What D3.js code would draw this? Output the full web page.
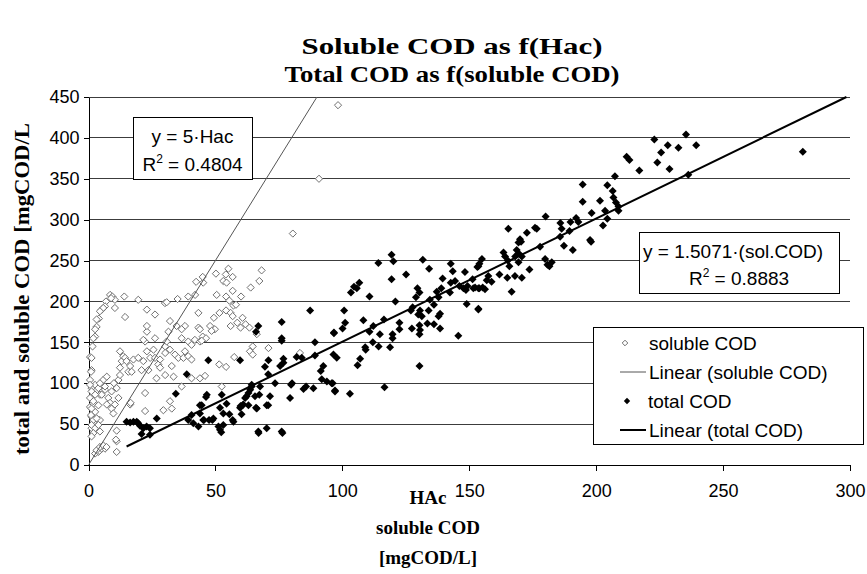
<!DOCTYPE html>
<html>
<head>
<meta charset="utf-8">
<script src="https://cdn.jsdelivr.net/npm/d3@7/dist/d3.min.js"></script>
<style>
  body{margin:0;background:#fff;}
  svg text{fill:#000;}
</style>
</head>
<body>
<svg id="chart" width="867" height="574"></svg>
<script>
// ---- data ----
const xTicks=[0,50,100,150,200,250,300];
const yTicks=[0,50,100,150,200,250,300,350,400,450];
const titleLines=["Soluble COD as f(Hac)","Total COD as f(soluble COD)"];
const xLabelLines=["HAc","soluble COD","[mgCOD/L]"];
const yLabel="total and soluble COD [mgCOD/L";
const legendItems=["soluble COD","Linear (soluble COD)","total COD","Linear (total COD)"];

// soluble COD vs HAc
const solubleCOD=[
  [1.2,45],[2.2,51],[3.2,47],[4.5,55],[1.2,59],[2.6,65],[0.6,71],[1.9,75],[3.9,73],[4.5,86],
  [1.2,94],[2.6,98],[0.6,104],[5.8,104],[7.2,108],[1.2,116],[0.6,132],[1.6,145],[2.6,157],[3.2,169],
  [4.1,179],[5.2,190],[6.9,200],[8.5,208],[9.4,206],[10.4,202],[14.1,206],[14.4,181],[6.5,194],
  [8.9,204],[10.4,192],[5.8,192],[4.5,188],[3.2,178],[2.6,166],[1.9,155],[1.2,131],[1.0,114],
  [0.6,98],[1.2,90],[0.6,82],[1.9,78],[1.2,69],[1.0,61],[1.9,55],[3.2,57],[1.2,49],[2.6,45],
  [3.9,49],[1.9,39],[1.2,35],[4.5,41],[3.9,16],[5.2,20],[6.5,20],[2.6,14],[11.1,16],[3.9,94],
  [5.2,86],[6.5,92],[7.8,82],[8.5,76],[7.2,74],[9.1,69],[9.8,63],[10.4,74],[11.8,82],[9.1,90],
  [11.1,94],[10.0,100],[11.8,104],[12.4,110],[12.4,119],[13.1,127],[12.4,139],[13.7,133],
  [14.4,131],[15.0,127],[16.4,121],[15.7,114],[17.0,114],[17.7,129],[19.6,131],[21.6,127],
  [23.0,139],[22.3,151],[21.6,153],[23.0,163],[23.0,170],[26.2,155],[25.6,141],[24.3,131],
  [20.9,116],[23.6,116],[26.2,131],[27.5,123],[28.2,129],[30.2,145],[30.2,137],[32.1,141],
  [32.8,121],[34.1,135],[35.4,131],[37.4,131],[38.0,139],[39.3,133],[40.6,129],[36.7,155],
  [39.3,151],[40.6,147],[41.9,153],[43.9,151],[43.3,168],[38.0,170],[36.7,166],[34.7,170],
  [32.1,176],[31.5,163],[30.8,151],[43.3,186],[23.0,190],[26.2,184],[19.6,202],[30.1,198],
  [35.1,203],[39.3,206],[42.0,208],[45.2,223],[6.5,96],[2.6,86],[4.5,100],[40.6,106],[43.9,106],
  [30.2,110],[33.5,108],[28.2,119],[26.8,106],[22.3,88],[22.3,66],[16.4,74],[32.1,78],[29.5,67],
  [36.7,96],[3.2,18],[4.5,22],[5.8,24],[7.1,22],[11.1,29],[11.1,42],[16.6,76],[10.8,31],
  [42.4,224],[45.0,230],[30.8,199],[32.8,69],
  [55.1,240],[50.2,234],[54.1,233],[56.8,230],[53.1,225],[54.4,223],[68.2,238],[67.3,225],
  [63.9,217],[56.8,213],[50.5,208],[54.2,206],[60.1,206],[55.5,201],[57.1,195],[58.1,196],
  [54.2,189],[51.6,186],[56.0,186],[49.4,180],[56.8,182],[60.7,180],[58.6,174],[56.0,170],
  [59.9,168],[61.9,172],[63.4,168],[47.9,170],[49.8,166],[48.5,164],[43.9,166],[45.0,157],
  [46.3,155],[44.6,152],[66.3,160],[64.7,145],[70.9,143],[63.6,139],[64.7,135],[57.4,132],
  [51.5,123],[54.2,120],[45.9,109],[52.5,96],
  [98.3,440],[90.8,350],[80.5,283],[83.3,137]
];

// total COD vs soluble COD
const totalCOD=[
  [15.0,53],[16.4,52],[17.7,53],[19.0,53],[19.6,51],[20.3,48],[21.6,45],[22.9,47],[24.2,45],
  [20.9,38],[24.2,37],[26.9,57],[34.4,87],[38.7,111],[43.9,73],[40.6,61],[41.3,51],[45.2,55],
  [43.9,63],[39.3,55],[43.3,47],
  [47.2,128],[46.6,86],[47.5,55],[49.2,57],[51.2,47],[51.8,43],[53.1,63],[54.4,75],[56.8,55],
  [59.7,128],[59.9,72],[60.7,73],[62.3,84],[63.0,88],[64.3,96],[65.6,84],[66.3,69],[66.9,41],
  [70.2,45],[69.5,120],[70.2,73],[70.9,128],[71.5,84],[73.5,100],[76.1,155],[76.1,175],
  [76.8,130],[76.1,41],[79.4,82],[80.2,100],[82.0,132],[66.0,163],[66.9,170],
  [87.3,189],[96.7,162],[89.2,150],[76.1,152],[76.8,125],[75.5,121],[84.0,131],[89.2,134],
  [96.5,135],[97.8,131],[92.5,121],[91.5,115],[70.8,111],[91.9,105],[93.9,102],[95.8,100],
  [97.1,91],[88.6,94],[85.7,96],[84.7,93],[79.8,98],[67.6,96],[67.3,86],[64.3,98],[63.7,92],
  [61.7,82],[61.0,74],[63.0,73],[59.7,70],[66.0,70],[70.8,73],[46.3,83],[52.5,86],[44.6,73],
  [51.8,70],[55.5,62],[45.5,55],[48.8,55],[57.1,53],[53.1,49],[52.3,40],[67.0,39],[76.4,39],
  [60.3,62],
  [119.4,257],[120.1,249],[114.2,247],[131.7,251],[134.2,240],[142.7,246],[143.5,237],
  [148.3,236],[153.6,243],[125.1,233],[119.4,227],[139.5,228],[144.4,225],[142.7,223],
  [139.0,216],[137.2,212],[129.6,216],[130.4,211],[129.0,205],[137.9,205],[134.5,202],
  [146.1,219],[147.7,216],[149.3,219],[151.6,216],[148.7,214],[153.6,216],[149.0,197],
  [153.6,191],[142.4,211],[136.1,196],[134.0,189],[138.5,185],[137.9,182],[130.6,189],
  [129.9,184],[131.3,182],[127.7,193],[127.0,189],[120.9,200],[110.7,206],[106.7,223],
  [104.6,218],[105.7,216],[103.4,211],[100.7,189],[101.1,174],[100.1,167],[96.7,161],
  [108.3,177],[112.2,170],[110.7,163],[114.8,160],[112.0,150],[114.3,145],[109.0,144],
  [109.2,141],[118.8,144],[119.8,160],[119.8,155],[122.5,174],[122.5,166],[127.4,167],
  [130.4,171],[130.6,165],[130.4,160],[133.5,173],[136.1,172],[138.5,167],[145.7,158],
  [116.4,178],[130.4,121],[107.0,130],[106.0,122],[96.2,100],[97.1,90],[103.0,87],[116.6,95],
  [207.4,353],[194.7,343],[204.4,342],[206.5,335],[206.8,327],[194.7,322],[201.5,323],
  [207.8,321],[198.2,308],[203.5,311],[204.4,301],[208.8,311],[202.7,293],[180.1,304],
  [192.1,302],[193.0,297],[189.9,297],[185.9,296],[186.4,289],[189.5,286],[198.0,273],
  [190.8,263],[187.3,268],[185.8,279],[175.9,290],[176.6,289],[172.7,284],[170.0,276],
  [169.4,272],[170.4,273],[165.4,289],[177.9,267],[163.5,260],[164.1,255],[168.7,263],
  [169.4,259],[168.1,255],[170.7,255],[169.4,248],[165.8,243],[165.2,250],[179.9,252],
  [180.8,245],[182.5,248],[181.6,243],[173.7,239],[155.0,252],[154.0,246],[153.2,242],
  [151.3,227],[157.5,231],[156.9,226],[161.9,233],[165.0,229],[168.0,231],[170.7,229],
  [166.7,212],[158.8,224],[155.3,217],[154.0,216],[152.3,217],[156.2,215],[153.6,190],
  [235.4,404],[222.9,398],[228.2,391],[232.4,388],[239.4,391],[225.6,382],[224.1,370],
  [228.9,362],[217.0,360],[212.0,377],[213.1,373],[236.3,355],[208.8,316],
  [281.4,383],[197.6,275]
];

// trendlines (from the chart's own equations)
const solubleSlope=5;
const solubleR2="0.4804";
const totalSlope=1.5071;
const totalR2="0.8883";
const totalLineFrom=15;

// ---- layout ----
const svg=d3.select("#chart");
const plot={left:88.5,right:850,top:97,bottom:465};

const x=d3.scaleLinear().domain([0,300]).range([plot.left,plot.right]);
const y=d3.scaleLinear().domain([0,450]).range([plot.bottom,plot.top]);

// 网格线
svg.append("g")
  .selectAll("line")
  .data(yTicks.filter(d=>d>0))
  .join("line")
  .attr("x1",plot.left).attr("x2",plot.right)
  .attr("y1",d=>y(d)).attr("y2",d=>y(d))
  .attr("stroke","#3c3c3c").attr("stroke-width",1)
  .attr("shape-rendering","crispEdges");

// axes
const xAxis=svg.append("g")
  .attr("transform",`translate(0,${plot.bottom})`)
  .call(d3.axisBottom(x).tickValues(xTicks).tickSize(6).tickPadding(13).tickSizeOuter(0));
const yAxis=svg.append("g")
  .attr("transform",`translate(${plot.left},0)`)
  .call(d3.axisLeft(y).tickValues(yTicks).tickSize(5).tickPadding(4).tickSizeOuter(0));

[xAxis,yAxis].forEach(a=>{
  a.select(".domain").attr("stroke","#000").attr("shape-rendering","crispEdges");
  a.selectAll(".tick line").attr("stroke","#000").attr("shape-rendering","crispEdges");
  a.selectAll(".tick text")
    .attr("font-family","'Liberation Sans',Arial,sans-serif")
    .attr("font-size",18).attr("fill","#000");
});

svg.append("clipPath").attr("id","plotClip")
  .append("rect")
  .attr("x",plot.left).attr("y",plot.top-2)
  .attr("width",plot.right-plot.left).attr("height",plot.bottom-plot.top+2);

const diamond=s=>`M0,${-s}L${s},0L0,${s}L${-s},0Z`;

// soluble COD markers (open diamonds)
svg.append("g")
  .selectAll("path")
  .data(solubleCOD)
  .join("path")
  .attr("d",diamond(3.6))
  .attr("transform",d=>`translate(${x(d[0])},${y(d[1])})`)
  .attr("fill","#fff").attr("stroke","#707070").attr("stroke-width",1);

// total COD markers (filled diamonds)
svg.append("g")
  .selectAll("path")
  .data(totalCOD)
  .join("path")
  .attr("d",diamond(4))
  .attr("transform",d=>`translate(${x(d[0])},${y(d[1])})`)
  .attr("fill","#000");

// trendlines
const lineGen=d3.line().x(d=>x(d[0])).y(d=>y(d[1]));
const solEnd=Math.min(300,450/solubleSlope);
svg.append("path")
  .attr("clip-path","url(#plotClip)")
  .attr("d",lineGen([[0,0],[solEnd,solEnd*solubleSlope]]))
  .attr("fill","none").attr("stroke","#555").attr("stroke-width",1);

const totEnd=Math.min(300,450/totalSlope);
svg.append("path")
  .attr("clip-path","url(#plotClip)")
  .attr("d",lineGen([[totalLineFrom,totalLineFrom*totalSlope],[totEnd,totEnd*totalSlope]]))
  .attr("fill","none").attr("stroke","#000").attr("stroke-width",2);

// title
const titleWidths=[301,335];
svg.append("g")
  .selectAll("text")
  .data(titleLines)
  .join("text")
  .attr("x",452).attr("y",(d,i)=>54+i*28)
  .attr("text-anchor","middle")
  .attr("font-family","'Liberation Serif','Times New Roman',serif")
  .attr("font-weight","bold").attr("font-size",24)
  .attr("textLength",(d,i)=>titleWidths[i])
  .attr("lengthAdjust","spacingAndGlyphs")
  .text(d=>d);

// x axis title
svg.append("g")
  .selectAll("text")
  .data(xLabelLines)
  .join("text")
  .attr("x",428).attr("y",(d,i)=>504+i*30)
  .attr("text-anchor","middle")
  .attr("font-family","'Liberation Serif','Times New Roman',serif")
  .attr("font-weight","bold").attr("font-size",19)
  .text(d=>d);

// y axis title
svg.append("text")
  .attr("transform","translate(29,289) rotate(-90)")
  .attr("text-anchor","middle")
  .attr("font-family","'Liberation Serif','Times New Roman',serif")
  .attr("font-weight","bold").attr("font-size",20)
  .attr("textLength",332)
  .attr("lengthAdjust","spacingAndGlyphs")
  .text(yLabel);

// equation boxes
function eqBox(bx,by,bw,bh,line1,r2,opts){
  const g=svg.append("g");
  g.append("rect").attr("x",bx).attr("y",by).attr("width",bw).attr("height",bh)
    .attr("fill","#fff").attr("stroke","#000").attr("stroke-width",1)
    .attr("shape-rendering","crispEdges");
  const font="'Liberation Sans',Arial,sans-serif";
  g.append("text").attr("x",opts.x1).attr("y",by+opts.dy1)
    .attr("text-anchor",opts.anchor1)
    .attr("font-family",font).attr("font-size",19).text(line1);
  const t=g.append("text").attr("x",bx+bw/2).attr("y",by+opts.dy2)
    .attr("text-anchor","middle")
    .attr("font-family",font).attr("font-size",19);
  t.append("tspan").text("R");
  t.append("tspan").attr("dy",-8).attr("font-size",12).text("2");
  t.append("tspan").attr("dy",8).text(" = "+r2);
}
eqBox(133,117,119,62,`y = ${solubleSlope}·Hac`,solubleR2,{x1:192.5,anchor1:"middle",dy1:26,dy2:54});
eqBox(639,232,200,61,`y = ${totalSlope}·(sol.COD)`,totalR2,{x1:643,anchor1:"start",dy1:26,dy2:53});

// legend
const lg=svg.append("g");
lg.append("rect").attr("x",593).attr("y",327).attr("width",270).attr("height",117)
  .attr("fill","#fff").attr("stroke","#000").attr("stroke-width",1)
  .attr("shape-rendering","crispEdges");
legendItems.forEach((name,i)=>{
  const cy=343+i*29;
  if(i===0){
    lg.append("path").attr("d",diamond(2.8)).attr("transform",`translate(625,${cy})`)
      .attr("fill","#fff").attr("stroke","#707070");
  } else if(i===2){
    lg.append("path").attr("d",diamond(3.2)).attr("transform",`translate(627,${cy})`)
      .attr("fill","#000");
  } else {
    lg.append("line").attr("x1",620).attr("x2",646).attr("y1",cy).attr("y2",cy)
      .attr("stroke",i===1?"#555":"#000").attr("stroke-width",i===1?1:2);
  }
  lg.append("text").attr("x",i===2?648:649).attr("y",cy+6.5)
    .attr("font-family","'Liberation Sans',Arial,sans-serif").attr("font-size",19)
    .text(name);
});
</script>
</body>
</html>
